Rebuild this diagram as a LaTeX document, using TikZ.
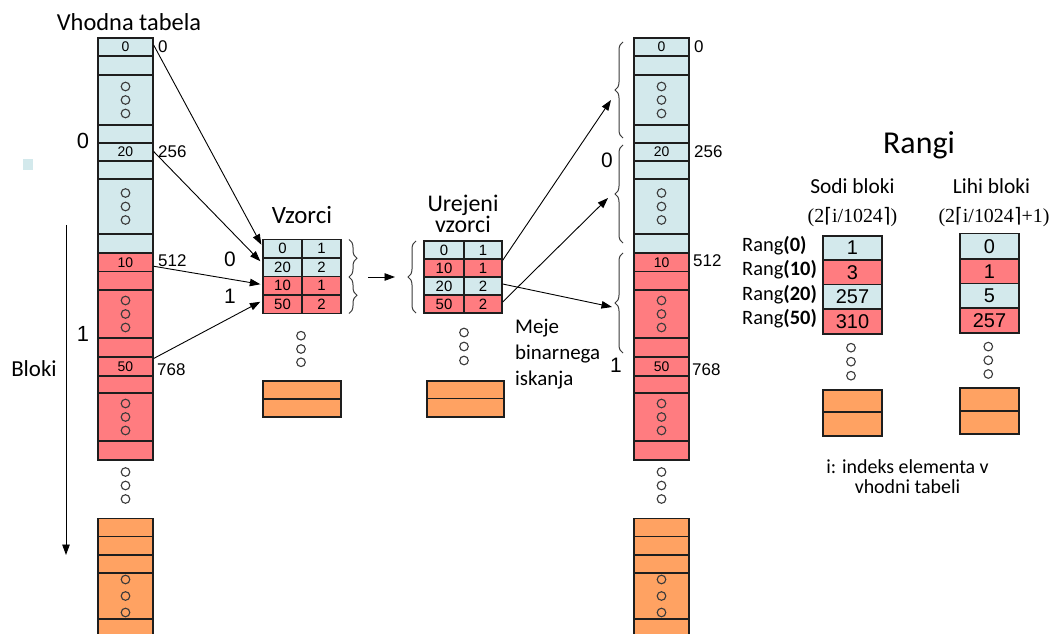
\documentclass[tikz,border=0pt]{standalone}
\usepackage{fontspec}
\setmainfont{Carlito}
\newfontfamily\arialf{Liberation Sans}
\newfontfamily\serf{Liberation Serif}
\newfontfamily\symf{DejaVu Sans}
\usetikzlibrary{arrows.meta,decorations.pathreplacing}

\definecolor{cblue}{HTML}{D3E9EC}
\definecolor{cred}{HTML}{FF7C80}
\definecolor{corange}{HTML}{FFA262}
\definecolor{cline}{HTML}{1E1E1E}
\definecolor{cdot}{HTML}{3A3A3A}

\tikzset{
  cell/.style={draw=cline, line width=1.3bp, inner sep=0pt,
    font=\arialf\fontsize{14}{14}\selectfont},
  ring/.style={circle, draw=cdot, line width=1.1bp, minimum size=8.6bp, inner sep=0pt},
  link/.style={draw=black, line width=0.9bp, -{Triangle[length=10.5bp,width=7.5bp]}},
  brc/.style={draw=cdot, line width=1bp, decorate, decoration={brace, amplitude=8bp}},
  lbl/.style={inner sep=0pt, font=\arialf\fontsize{17}{17}\selectfont},
  blk/.style={inner sep=0pt, font=\arialf\fontsize{22}{22}\selectfont},
  ttl/.style={inner sep=0pt, align=center},
}

% ceiling formula in a serif face
\newcommand\ceilf[1]{{\serf(2}{\symf\char"2308}{\serf i/1024}{\symf\char"2309}{\serf#1)}}

% one rectangular cell: extra style, name, x centre, top, bottom, fill, text
\newcommand\mkcell[7]{%
  \pgfmathsetmacro\cellh{#5-#4}%
  \pgfmathsetmacro\cellc{(#4+#5)/2}%
  \node[cell,#1,fill=#6,minimum height=\cellh bp] (#2) at (#3,\cellc) {#7};}

% three small rings stacked around the centre of a node
\newcommand\mkrings[3]{%
  \node[ring] (#1a) at ([yshift=#3]#2.center) {};
  \node[ring] (#1b) at (#2.center) {};
  \node[ring] (#1c) at ([yshift=-#3]#2.center) {};}

% the full input / output table column: prefix, x centre
\newcommand\mkcolumn[2]{%
  \foreach \yt/\yb/\cc/\txt [count=\i] in {
      38/56/cblue/0, 56/75/cblue/{}, 75/125/cblue/{}, 125/143/cblue/{},
      143/161/cblue/20, 161/179/cblue/{}, 179/234/cblue/{}, 234/253/cblue/{},
      253/271.5/cred/10, 271.5/290/cred/{}, 290/338/cred/{}, 338/357/cred/{},
      357/376/cred/50, 376/393/cred/{}, 393/441/cred/{}, 441/460/cred/{}}
    {\mkcell{minimum width=55bp}{#1-\i}{#2}{\yt}{\yb}{\cc}{\txt}}
  \foreach \yt/\yb [count=\i] in {518.5/536.5, 536.5/555, 555/573, 573/619, 619/650}
    {\mkcell{minimum width=55bp}{#1-o\i}{#2}{\yt}{\yb}{corange}{}}
  \foreach \k in {3,7,11,15} {\mkrings{#1-r\k}{#1-\k}{13.5bp}}
  \mkrings{#1-ro}{#1-o4}{16.5bp}
  \coordinate (#1-gap) at (#2,485.5);
  \mkrings{#1-rg}{#1-gap}{13.5bp}}

\begin{document}
\begin{tikzpicture}[x=1bp,y=-1bp]
\clip (0,0) rectangle (1051,634);
\fill[white] (0,0) rectangle (1051,634);

% small marker square
\node[fill=cblue, minimum width=10bp, minimum height=11bp, inner sep=0pt] (mark) at (28,164.5) {};

% ---------------- input table ----------------
\node[ttl, font=\fontsize{24.5}{24.5}\selectfont] (tin) at (129,22) {Vhodna tabela};
\mkcolumn{L}{125.5}
\node[lbl, anchor=west] (Ln0) at (158,47) {0};
\node[lbl, anchor=west] (Ln1) at (158,151.5) {256};
\node[lbl, anchor=west] (Ln2) at (158,260.5) {512};
\node[lbl, anchor=west] (Ln3) at (157,369.5) {768};
\node[blk] (Lb0) at (83,141) {0};
\node[blk] (Lb1) at (83,334) {1};

% blocks axis
\coordinate (ax0) at (66,225);
\coordinate (ax1) at (66,555);
\draw[link] (ax0) -- (ax1);
\node[ttl, font=\fontsize{23}{23}\selectfont] (tbl) at (34,369) {Bloki};

% ---------------- samples ----------------
\node[ttl, font=\fontsize{25}{25}\selectfont] (tvz) at (302,215) {Vzorci};
\foreach \yt/\yb/\cc/\ka/\kb [count=\i] in {
    239.5/258/cblue/0/1, 258/276.5/cblue/20/2, 276.5/295/cred/10/1, 295/313.5/cred/50/2}
  {\mkcell{minimum width=39bp, font=\arialf\fontsize{15}{15}\selectfont}{va\i}{282.5}{\yt}{\yb}{\cc}{\ka}
   \mkcell{minimum width=39bp, font=\arialf\fontsize{15}{15}\selectfont}{vb\i}{321.5}{\yt}{\yb}{\cc}{\kb}}
\draw[brc] (349,239.5) -- (349,277);
\draw[brc] (349,277) -- (349,313.5);
\node[blk, font=\arialf\fontsize{21}{21}\selectfont] (vb0) at (230,259.5) {0};
\node[blk, font=\arialf\fontsize{21}{21}\selectfont] (vbl1) at (230,296) {1};
\coordinate (vzgap) at (301,349);
\mkrings{vzr}{vzgap}{13.3bp}
\mkcell{minimum width=78bp}{vo1}{302}{381}{399}{corange}{}
\mkcell{minimum width=78bp}{vo2}{302}{399}{417}{corange}{}

\draw[link] ([yshift=2bp]L-1.east) -- ([xshift=-1bp,yshift=4bp]va1.west);
\draw[link] ([yshift=0.5bp]L-5.east) -- ([xshift=-2bp,yshift=6bp]va2.west);
\draw[link] ([yshift=-4bp]L-9.east) -- ([xshift=-2bp,yshift=1.5bp]va3.west);
\draw[link] ([yshift=8bp]L-13.east) -- ([xshift=-2bp,yshift=2.5bp]va4.west);

% sorting step
\coordinate (s0) at (368,277);
\coordinate (s1) at (395,277);
\draw[link] (s0) -- (s1);

% ---------------- sorted samples ----------------
\node[ttl, font=\fontsize{24}{18.5}\selectfont] (tur) at (463,214) {Urejeni\\vzorci};
\foreach \yt/\yb/\cc/\ka/\kb [count=\i] in {
    241/259/cblue/0/1, 259/277/cred/10/1, 277/295/cblue/20/2, 295/313/cred/50/2}
  {\mkcell{minimum width=40bp, font=\arialf\fontsize{15}{15}\selectfont}{ua\i}{444}{\yt}{\yb}{\cc}{\ka}
   \mkcell{minimum width=38bp, font=\arialf\fontsize{15}{15}\selectfont}{ub\i}{483}{\yt}{\yb}{\cc}{\kb}}
\draw[brc] (416,313) -- (416,241);
\coordinate (urgap) at (464,346.5);
\mkrings{urr}{urgap}{14bp}
\mkcell{minimum width=77bp}{uo1}{465.5}{381}{398.5}{corange}{}
\mkcell{minimum width=77bp}{uo2}{465.5}{398.5}{417}{corange}{}
\node[ttl, anchor=north west, align=left, font=\fontsize{21}{26}\selectfont] (tmeje) at (515,319) {Meje\\binarnega\\iskanja};

% ---------------- output table ----------------
\mkcolumn{R}{661.5}
\node[lbl, anchor=west] (Rn0) at (694,47) {0};
\node[lbl, anchor=west] (Rn1) at (694,151.5) {256};
\node[lbl, anchor=west] (Rn2) at (693,260.5) {512};
\node[lbl, anchor=west] (Rn3) at (692,369.5) {768};
\draw[brc] (623,138) -- (623,42);
\draw[brc] (623,243) -- (623,145);
\draw[brc] (623,353) -- (623,253);
\node[blk, font=\arialf\fontsize{21}{21}\selectfont] (Rb0) at (607,160) {0};
\node[blk, font=\arialf\fontsize{21}{21}\selectfont] (Rb1) at (616,365) {1};

\coordinate (t1) at (611,100);
\coordinate (t2) at (608,198);
\coordinate (t3) at (612,307);
\draw[link] ([yshift=-2bp]ub2.north east) -- (t1);
\draw[link] ([yshift=2bp]ub4.east) -- (t2);
\draw[link] ([yshift=2bp]ub3.east) -- (t3);

% ---------------- ranks ----------------
\node[ttl, font=\fontsize{32}{32}\selectfont] (trg) at (919,145) {Rangi};
\node[ttl, font=\fontsize{21.5}{21.5}\selectfont] (tsodi) at (852.5,186) {Sodi bloki};
\node[ttl, font=\fontsize{21.5}{21.5}\selectfont] (tlihi) at (991.5,186) {Lihi bloki};
\node[ttl, font=\fontsize{20}{20}\selectfont] (fsodi) at (852.5,217) {\ceilf{}};
\node[ttl, font=\fontsize{20}{20}\selectfont] (flihi) at (994,217) {\ceilf{+1}};

\foreach \yt/\yb/\cc/\val [count=\i] in {236/260/cblue/1, 260/284.5/cred/3, 284.5/309/cblue/257, 309/334/cred/310}
  {\mkcell{minimum width=59bp, font=\arialf\fontsize{20}{20}\selectfont}{sd\i}{852.5}{\yt}{\yb}{\cc}{\val}}
\foreach \yt/\yb/\cc/\val [count=\i] in {233.5/259/cblue/0, 259/283.5/cred/1, 283.5/308/cblue/5, 308/333/cred/257}
  {\mkcell{minimum width=59bp, font=\arialf\fontsize{20}{20}\selectfont}{lh\i}{989.5}{\yt}{\yb}{\cc}{\val}}

\foreach \k/\v in {1/0, 2/10, 3/20, 4/50}
  {\node[inner sep=0pt, anchor=west, font=\fontsize{20.5}{20.5}\selectfont] (rg\k) at (742,{245.5+24.5*(\k-1)}) {Rang\textbf{(\v)}};}

\coordinate (sdgap) at (851,361.7);
\mkrings{sdr}{sdgap}{14bp}
\coordinate (lhgap) at (988.3,360.3);
\mkrings{lhr}{lhgap}{13.7bp}
\mkcell{minimum width=59bp}{so1}{852.5}{390}{412}{corange}{}
\mkcell{minimum width=59bp}{so2}{852.5}{412}{436}{corange}{}
\mkcell{minimum width=59bp}{lo1}{989.5}{388}{411}{corange}{}
\mkcell{minimum width=59bp}{lo2}{989.5}{411}{434}{corange}{}

\node[ttl, font=\fontsize{20}{20}\selectfont] (tnote) at (907.5,477) {i: indeks elementa v\\vhodni tabeli};
\end{tikzpicture}
\end{document}
